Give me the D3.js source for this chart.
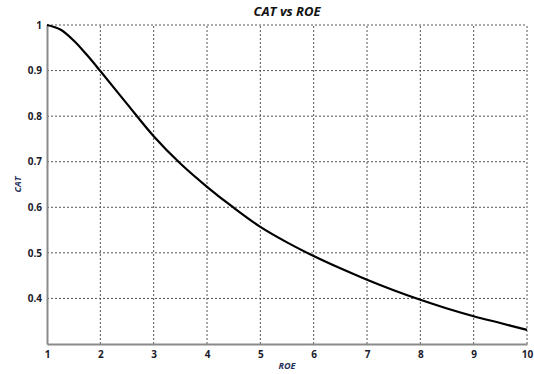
<!DOCTYPE html>
<html>
<head>
<meta charset="utf-8">
<script src="https://cdn.jsdelivr.net/npm/d3@7"></script>
<style>
  body { margin: 0; background: #fff; }
  text { font-family: "Open Sans", "DejaVu Sans", sans-serif; }
</style>
</head>
<body>
<div id="chart"></div>
<script>

// values
var roe = [1, 1.25, 1.5, 1.75, 2, 2.5, 3, 3.5, 4, 4.5, 5, 5.5, 6, 6.5, 7, 7.5, 8, 8.5, 9, 9.5, 10];
var cat = [1, 0.99, 0.966, 0.934, 0.899, 0.827, 0.756, 0.696, 0.645, 0.599, 0.557, 0.523, 0.493, 0.466, 0.441, 0.418, 0.397, 0.378, 0.361, 0.346, 0.331];

var xTicks = [1, 2, 3, 4, 5, 6, 7, 8, 9, 10];
var yTicks = [0.4, 0.5, 0.6, 0.7, 0.8, 0.9, 1];

var width = 534, height = 374;
var margin = {top: 25, right: 7, bottom: 30, left: 47};

var svg = d3.select("#chart")
  .append("svg")
  .attr("width", width)
  .attr("height", height);

var x = d3.scaleLinear()
  .domain([1, 10])
  .range([margin.left, width - margin.right]);

var y = d3.scaleLinear()
  .domain([0.3, 1])
  .range([height - margin.bottom, margin.top]);

// dotted grid
svg.append("g")
  .selectAll("line")
  .data(xTicks.slice(1))
  .enter()
  .append("line")
  .attr("x1", d => x(d)).attr("x2", d => x(d))
  .attr("y1", y(0.3)).attr("y2", y(1))
  .attr("stroke", "#555")
  .attr("stroke-width", 1)
  .attr("stroke-dasharray", "2,2");

svg.append("g")
  .selectAll("line")
  .data(yTicks)
  .enter()
  .append("line")
  .attr("x1", x(1)).attr("x2", x(10))
  .attr("y1", d => y(d)).attr("y2", d => y(d))
  .attr("stroke", "#555")
  .attr("stroke-width", 1)
  .attr("stroke-dasharray", "2,2");

// axes
var xAxis = svg.append("g")
  .attr("transform", "translate(0," + y(0.3) + ")")
  .call(d3.axisBottom(x).tickValues(xTicks).tickSize(0).tickPadding(7).tickFormat(d3.format("d")));

var yAxis = svg.append("g")
  .attr("transform", "translate(" + x(1) + ",0)")
  .call(d3.axisLeft(y).tickValues(yTicks).tickSize(0).tickPadding(5).tickFormat(d => d == 1 ? "1" : d3.format(".1f")(d)));

[xAxis, yAxis].forEach(function(a) {
  a.select(".domain").attr("stroke", "#8a8a8a").attr("stroke-width", 2);
  a.selectAll("text")
    .attr("font-size", 10)
    .attr("font-weight", "bold")
    .attr("fill", "#1a1a2a");
});

// the curve
svg.append("path")
  .datum(d3.zip(roe, cat))
  .attr("fill", "none")
  .attr("stroke", "#000")
  .attr("stroke-width", 2.2)
  .attr("d", d3.line()
    .x(d => x(d[0]))
    .y(d => y(d[1]))
    .curve(d3.curveCatmullRom.alpha(0.5)));

// titles
svg.append("text")
  .attr("x", (x(1) + x(10)) / 2)
  .attr("y", 16)
  .attr("text-anchor", "middle")
  .attr("font-size", 13)
  .attr("font-weight", "bold")
  .attr("font-style", "italic")
  .attr("fill", "#111")
  .text("CAT vs ROE");

svg.append("text")
  .attr("x", (x(1) + x(10)) / 2)
  .attr("y", 369)
  .attr("text-anchor", "middle")
  .attr("font-size", 9)
  .attr("font-weight", "bold")
  .attr("font-style", "italic")
  .attr("fill", "#1f2f5a")
  .text("ROE");

svg.append("text")
  .attr("transform", "translate(21," + ((y(0.3) + y(1)) / 2) + ") rotate(-90)")
  .attr("text-anchor", "middle")
  .attr("font-size", 9)
  .attr("font-weight", "bold")
  .attr("font-style", "italic")
  .attr("fill", "#1f2f5a")
  .text("CAT");

</script>
</body>
</html>
